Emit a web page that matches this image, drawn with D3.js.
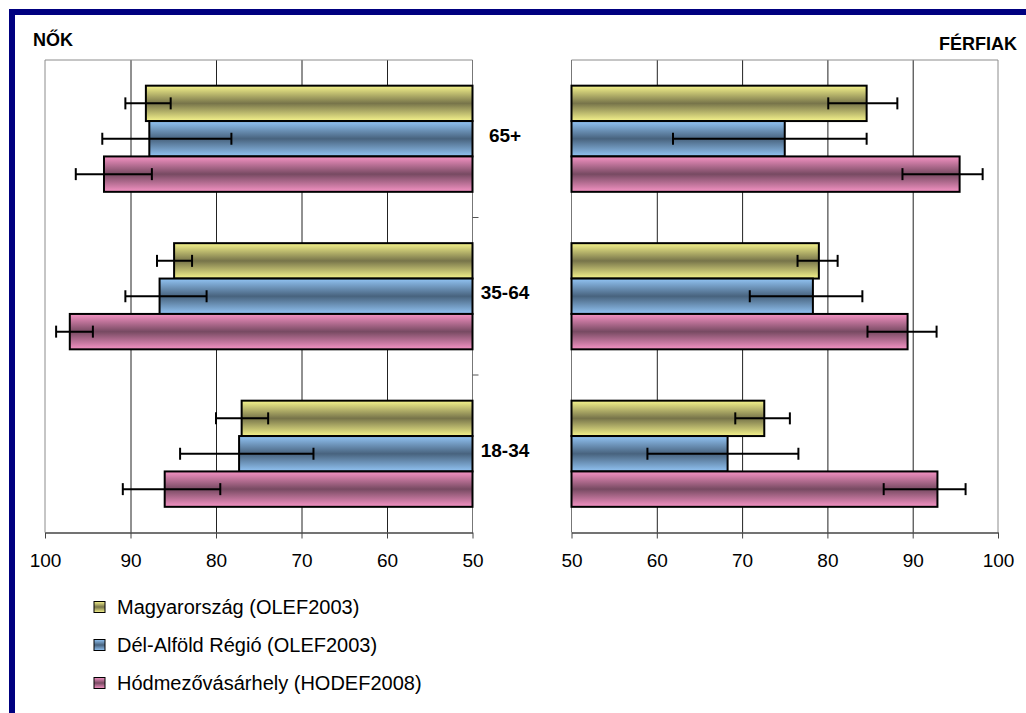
<!DOCTYPE html>
<html>
<head>
<meta charset="utf-8">
<script src="https://cdn.jsdelivr.net/npm/d3@7"></script>
<style>
  body { margin: 0; background: #fff; }
  svg { display: block; font-family: "Liberation Sans", Arial, sans-serif; }
</style>
</head>
<body>
<div id="chart"></div>
<script>
// categories, top to bottom
var ageGroups = ["65+", "35-64", "18-34"];
var seriesNames = ["Magyarország (OLEF2003)", "Dél-Alföld Régió (OLEF2003)", "Hódmezővásárhely (HODEF2008)"];
var xTicks = [100, 90, 80, 70, 60, 50];

// NŐK values per series, in ageGroups order
var nokMagyar = [88.2, 84.9, 77.0];
var nokDelAlfold = [87.8, 86.6, 77.3];
var nokHodmezo = [93.1, 97.1, 86.0];
// NŐK confidence limits [low, high]
var nokMagyarCI = [[85.3, 90.6], [82.8, 86.9], [73.9, 80.0]];
var nokDelAlfoldCI = [[78.2, 93.3], [81.1, 90.6], [68.6, 84.2]];
var nokHodmezoCI = [[87.5, 96.4], [94.4, 98.7], [79.5, 90.9]];

// FÉRFIAK values
var ferfiMagyar = [84.6, 79.0, 72.6];
var ferfiDelAlfold = [75.0, 78.3, 68.3];
var ferfiHodmezo = [95.5, 89.4, 92.9];
var ferfiMagyarCI = [[80.1, 88.2], [76.5, 81.2], [69.2, 75.6]];
var ferfiDelAlfoldCI = [[61.9, 84.6], [70.9, 84.1], [58.9, 76.6]];
var ferfiHodmezoCI = [[88.8, 98.2], [84.7, 92.8], [86.6, 96.2]];

var W = 1026, H = 713;
var plotTop = 60, plotBottom = 532.5;

var svg = d3.select("#chart").append("svg")
    .attr("width", W)
    .attr("height", H);

// gradients (light edges, dark middle)
var gradColors = [
    { id: "gYellow", light: "#f6f48c", dark: "#77744a" },
    { id: "gBlue", light: "#92c4f4", dark: "#48637e" },
    { id: "gPink", light: "#f593c4", dark: "#774a62" }
];
var defs = svg.append("defs");
gradColors.forEach(function (g) {
    var lg = defs.append("linearGradient")
        .attr("id", g.id)
        .attr("x1", 0).attr("y1", 0).attr("x2", 0).attr("y2", 1);
    lg.append("stop").attr("offset", "0%").attr("stop-color", g.light);
    lg.append("stop").attr("offset", "50%").attr("stop-color", g.dark);
    lg.append("stop").attr("offset", "100%").attr("stop-color", g.light);
});

// outer frame
svg.append("rect")
    .attr("x", 12).attr("y", 12)
    .attr("width", 1100).attr("height", 800)
    .attr("fill", "none")
    .attr("stroke", "#000080")
    .attr("stroke-width", 6);

// category scale (shared)
var yCat = d3.scaleBand()
    .domain(ageGroups)
    .range([plotTop, plotBottom])
    .paddingInner(0.326)
    .paddingOuter(0.163);
var ySer = d3.scaleBand()
    .domain(d3.range(3))
    .range([0, yCat.bandwidth()]);

function makeData(vals, cis) {
    var out = [];
    ageGroups.forEach(function (cat, ci) {
        vals.forEach(function (v, si) {
            out.push({ cat: cat, s: si, v: v[ci], lo: cis[si][ci][0], hi: cis[si][ci][1] });
        });
    });
    return out;
}

var nokData = makeData([nokMagyar, nokDelAlfold, nokHodmezo], [nokMagyarCI, nokDelAlfoldCI, nokHodmezoCI]);
var ferfiData = makeData([ferfiMagyar, ferfiDelAlfold, ferfiHodmezo], [ferfiMagyarCI, ferfiDelAlfoldCI, ferfiHodmezoCI]);

var xLeft = d3.scaleLinear().domain([100, 50]).range([45, 472.5]);
var xRight = d3.scaleLinear().domain([50, 100]).range([571.5, 998]);

function drawPanel(x, data) {
    var g = svg.append("g");

    // gridlines
    g.append("g")
        .attr("transform", "translate(0," + plotBottom + ")")
        .call(d3.axisBottom(x).tickValues([90, 80, 70, 60]).tickSize(-(plotBottom - plotTop)).tickFormat(""))
        .call(function (s) { s.select(".domain").remove(); })
        .selectAll("line").attr("stroke", "#222");

    // plot border (top + outer side)
    g.append("line")
        .attr("x1", x(50)).attr("x2", x(100))
        .attr("y1", plotTop).attr("y2", plotTop)
        .attr("stroke", "#8c8c8c");
    g.append("line")
        .attr("x1", x(100)).attr("x2", x(100))
        .attr("y1", plotTop).attr("y2", plotBottom)
        .attr("stroke", "#8c8c8c");
    // category axis line
    g.append("line")
        .attr("x1", x(50)).attr("x2", x(50))
        .attr("y1", plotTop).attr("y2", plotBottom)
        .attr("stroke", "#777");

    // bars
    g.selectAll(".bar")
        .data(data)
        .enter().append("rect")
        .attr("class", "bar")
        .attr("x", function (d) { return Math.min(x(50), x(d.v)); })
        .attr("width", function (d) { return Math.abs(x(d.v) - x(50)); })
        .attr("y", function (d) { return yCat(d.cat) + ySer(d.s); })
        .attr("height", ySer.bandwidth())
        .attr("fill", function (d) { return "url(#" + gradColors[d.s].id + ")"; })
        .attr("stroke", "#000")
        .attr("stroke-width", 2);

    // error bars
    var eb = g.selectAll(".err")
        .data(data)
        .enter().append("g")
        .attr("class", "err")
        .attr("stroke", "#000")
        .attr("stroke-width", 2);
    function cy(d) { return yCat(d.cat) + ySer(d.s) + ySer.bandwidth() / 2; }
    eb.append("line")
        .attr("x1", function (d) { return x(d.lo); })
        .attr("x2", function (d) { return x(d.hi); })
        .attr("y1", cy).attr("y2", cy);
    eb.append("line")
        .attr("x1", function (d) { return x(d.lo); })
        .attr("x2", function (d) { return x(d.lo); })
        .attr("y1", function (d) { return cy(d) - 6; })
        .attr("y2", function (d) { return cy(d) + 6; });
    eb.append("line")
        .attr("x1", function (d) { return x(d.hi); })
        .attr("x2", function (d) { return x(d.hi); })
        .attr("y1", function (d) { return cy(d) - 6; })
        .attr("y2", function (d) { return cy(d) + 6; });

    // value axis
    var ax = g.append("g")
        .attr("transform", "translate(0," + plotBottom + ")")
        .call(d3.axisBottom(x).tickValues(xTicks).tickSize(6).tickPadding(15).tickSizeOuter(0));
    ax.select(".domain").attr("stroke", "#444").attr("stroke-width", 1.5);
    ax.selectAll(".tick line").attr("stroke", "#444");
    ax.selectAll("text")
        .attr("fill", "#000")
        .style("font-size", "19px")
        .style("font-family", "'Liberation Sans', Arial, sans-serif");
    return g;
}

drawPanel(xLeft, nokData);
drawPanel(xRight, ferfiData);

// category ticks on the left panel's axis
var catEdges = ageGroups.map(function (c) { return yCat(c) - yCat.step() * yCat.paddingInner() / 2; });
svg.selectAll(".catTick")
    .data(catEdges.slice(1))
    .enter().append("line")
    .attr("class", "catTick")
    .attr("x1", xLeft(50)).attr("x2", xLeft(50) + 6)
    .attr("y1", function (d) { return d; })
    .attr("y2", function (d) { return d; })
    .attr("stroke", "#555");

// category labels
svg.selectAll(".catLabel")
    .data(ageGroups)
    .enter().append("text")
    .attr("class", "catLabel")
    .attr("x", 505)
    .attr("y", function (d) { return yCat(d) + yCat.bandwidth() / 2 + 3; })
    .attr("text-anchor", "middle")
    .style("font-size", "19px")
    .style("font-weight", "bold")
    .text(function (d) { return d; });

// panel titles
svg.append("text")
    .attr("x", 33).attr("y", 46)
    .style("font-size", "18px").style("font-weight", "bold")
    .text("NŐK");
svg.append("text")
    .attr("x", 1017).attr("y", 50)
    .attr("text-anchor", "end")
    .style("font-size", "18px").style("font-weight", "bold")
    .text("FÉRFIAK");

// legend
var legend = svg.selectAll(".legend")
    .data(seriesNames)
    .enter().append("g")
    .attr("class", "legend")
    .attr("transform", function (d, i) { return "translate(94," + (607 + i * 38) + ")"; });
legend.append("rect")
    .attr("x", 0).attr("y", -5.5)
    .attr("width", 11).attr("height", 11)
    .attr("fill", function (d, i) { return "url(#" + gradColors[i].id + ")"; })
    .attr("stroke", "#000")
    .attr("stroke-width", 1);
legend.append("text")
    .attr("x", 23)
    .attr("y", 6.5)
    .style("font-size", "20px")
    .text(function (d) { return d; });
</script>
</body>
</html>
